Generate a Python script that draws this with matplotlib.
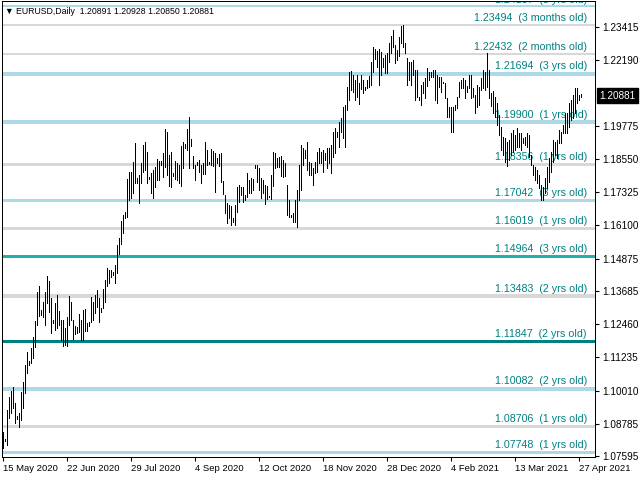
import matplotlib
matplotlib.use("Agg")
import matplotlib.pyplot as plt
import matplotlib.transforms as mtransforms

plt.rcParams["font.family"] = ["Liberation Sans", "DejaVu Sans"]

# header of the MT chart window
header_text = "\u25bc EURUSD,Daily  1.20891 1.20928 1.20850 1.20881"
last_price = 1.20881

# daily bars (high / low)
bar_high = [
    1.0848, 1.0822, 1.0929, 1.0977, 1.1000, 1.1014, 1.0955, 1.0907, 1.0918, 1.0996,
    1.1032, 1.1095, 1.1143, 1.1110, 1.1158, 1.1198, 1.1257, 1.1364, 1.1386, 1.1298,
    1.1327, 1.1364, 1.1423, 1.1405, 1.1342, 1.1261, 1.1324, 1.1353, 1.1294, 1.1261,
    1.1261, 1.1231, 1.1272, 1.1349, 1.1327, 1.1261, 1.1239, 1.1235, 1.1283, 1.1261,
    1.1298, 1.1302, 1.1250, 1.1254, 1.1346, 1.1327, 1.1353, 1.1371, 1.1342, 1.1305,
    1.1375, 1.1408, 1.1453, 1.1445, 1.1445, 1.1438, 1.1464, 1.1538, 1.1563, 1.1626,
    1.1648, 1.1659, 1.1781, 1.1807, 1.1807, 1.1844, 1.1914, 1.1785, 1.1796, 1.1840,
    1.1907, 1.1918, 1.1881, 1.1788, 1.1803, 1.1814, 1.1825, 1.1855, 1.1848, 1.1848,
    1.1877, 1.1965, 1.1954, 1.1870, 1.1881, 1.1803, 1.1848, 1.1840, 1.1833, 1.1903,
    1.1918, 1.1910, 1.1965, 1.2010, 1.1929, 1.1866, 1.1833, 1.1844, 1.1851, 1.1833,
    1.1840, 1.1918, 1.1888, 1.1844, 1.1892, 1.1884, 1.1877, 1.1859, 1.1873, 1.1877,
    1.1774, 1.1722, 1.1693, 1.1685, 1.1681, 1.1637, 1.1685, 1.1752, 1.1759, 1.1752,
    1.1752, 1.1722, 1.1803, 1.1777, 1.1785, 1.1781, 1.1833, 1.1833, 1.1822, 1.1785,
    1.1777, 1.1759, 1.1755, 1.1718, 1.1796, 1.1881, 1.1877, 1.1859, 1.1862, 1.1866,
    1.1851, 1.1840, 1.1759, 1.1704, 1.1648, 1.1656, 1.1704, 1.1741, 1.1833, 1.1907,
    1.1896, 1.1888, 1.1918, 1.1844, 1.1840, 1.1822, 1.1844, 1.1881, 1.1896, 1.1881,
    1.1888, 1.1877, 1.1896, 1.1896, 1.1907, 1.1954, 1.1969, 1.1954, 1.1991, 1.2006,
    1.2047, 1.2054, 1.2120, 1.2176, 1.2179, 1.2165, 1.2146, 1.2165, 1.2135, 1.2165,
    1.2146, 1.2120, 1.2146, 1.2161, 1.2213, 1.2268, 1.2261, 1.2253, 1.2261, 1.2250,
    1.2227, 1.2238, 1.2246, 1.2283, 1.2308, 1.2331, 1.2275, 1.2257, 1.2305, 1.2345,
    1.2349, 1.2283, 1.2227, 1.2213, 1.2213, 1.2220, 1.2183, 1.2183, 1.2084, 1.2128,
    1.2139, 1.2154, 1.2190, 1.2176, 1.2176, 1.2183, 1.2183, 1.2165, 1.2157, 1.2157,
    1.2139, 1.2135, 1.2080, 1.2047, 1.2047, 1.2047, 1.2054, 1.2084, 1.2139, 1.2146,
    1.2154, 1.2146, 1.2124, 1.2165, 1.2165, 1.2117, 1.2091, 1.2128, 1.2120, 1.2154,
    1.2183, 1.2176, 1.2246, 1.2183, 1.2100, 1.2105, 1.2085, 1.2061, 1.2017, 1.1973,
    1.1936, 1.1932, 1.1918, 1.1925, 1.1951, 1.1962, 1.1943, 1.1969, 1.1951, 1.1951,
    1.1932, 1.1936, 1.1951, 1.1943, 1.1870, 1.1833, 1.1825, 1.1814, 1.1796, 1.1759,
    1.1752, 1.1785, 1.1825, 1.1859, 1.1881, 1.1925, 1.1918, 1.1925, 1.1962, 1.1954,
    1.1980, 1.2025, 1.2025, 1.2061, 1.2072, 1.2091, 1.2117, 1.2117, 1.2091, 1.20928,
]
bar_low = [
    1.0789, 1.0815, 1.0800, 1.0900, 1.0918, 1.0937, 1.0881, 1.0896, 1.0867, 1.0892,
    1.0937, 1.0992, 1.1066, 1.1095, 1.1102, 1.1121, 1.1161, 1.1242, 1.1276, 1.1279,
    1.1272, 1.1242, 1.1324, 1.1290, 1.1213, 1.1250, 1.1224, 1.1231, 1.1242, 1.1187,
    1.1165, 1.1169, 1.1165, 1.1242, 1.1261, 1.1191, 1.1209, 1.1213, 1.1217, 1.1187,
    1.1187, 1.1220, 1.1220, 1.1239, 1.1254, 1.1261, 1.1287, 1.1309, 1.1254, 1.1290,
    1.1305, 1.1327, 1.1386, 1.1397, 1.1419, 1.1427, 1.1397, 1.1434, 1.1504, 1.1541,
    1.1582, 1.1637, 1.1641, 1.1704, 1.1711, 1.1729, 1.1766, 1.1766, 1.1693, 1.1766,
    1.1807, 1.1814, 1.1766, 1.1781, 1.1729, 1.1711, 1.1752, 1.1777, 1.1777, 1.1833,
    1.1789, 1.1825, 1.1796, 1.1755, 1.1752, 1.1792, 1.1781, 1.1777, 1.1766, 1.1755,
    1.1822, 1.1895, 1.1888, 1.1822, 1.1903, 1.1822, 1.1777, 1.1833, 1.1807, 1.1766,
    1.1800, 1.1800, 1.1833, 1.1836, 1.1833, 1.1829, 1.1733, 1.1840, 1.1829, 1.1770,
    1.1726, 1.1656, 1.1619, 1.1637, 1.1611, 1.1622, 1.1611, 1.1659, 1.1696, 1.1722,
    1.1696, 1.1704, 1.1715, 1.1729, 1.1729, 1.1741, 1.1822, 1.1770, 1.1741, 1.1711,
    1.1729, 1.1689, 1.1707, 1.1715, 1.1707, 1.1755, 1.1822, 1.1825, 1.1825, 1.1792,
    1.1789, 1.1792, 1.1648, 1.1641, 1.1641, 1.1622, 1.1622, 1.1604, 1.1704, 1.1741,
    1.1833, 1.1858, 1.1814, 1.1796, 1.1796, 1.1759, 1.1803, 1.1807, 1.1840, 1.1840,
    1.1807, 1.1851, 1.1822, 1.1840, 1.1803, 1.1862, 1.1877, 1.1936, 1.1899, 1.1954,
    1.1932, 1.1899, 1.2036, 1.2072, 1.2109, 1.2102, 1.2072, 1.2084, 1.2058, 1.2113,
    1.2098, 1.2109, 1.2117, 1.2120, 1.2128, 1.2176, 1.2224, 1.2194, 1.2128, 1.2165,
    1.2194, 1.2172, 1.2172, 1.2213, 1.2246, 1.2268, 1.2209, 1.2220, 1.2235, 1.2283,
    1.2268, 1.2246, 1.2128, 1.2146, 1.2128, 1.2165, 1.2072, 1.2084, 1.2072, 1.2054,
    1.2098, 1.2080, 1.2124, 1.2146, 1.2157, 1.2157, 1.2072, 1.2061, 1.2120, 1.2102,
    1.2135, 1.2080, 1.2010, 1.2010, 1.1954, 1.1954, 1.2036, 1.2043, 1.2084, 1.2117,
    1.2117, 1.2080, 1.2102, 1.2117, 1.2080, 1.2084, 1.2025, 1.2047, 1.2054, 1.2109,
    1.2117, 1.2109, 1.2120, 1.2080, 1.2050, 1.2025, 1.2010, 1.1980, 1.1943, 1.1888,
    1.1870, 1.1844, 1.1829, 1.1851, 1.1870, 1.1881, 1.1888, 1.1899, 1.1899, 1.1888,
    1.1914, 1.1907, 1.1899, 1.1862, 1.1833, 1.1796, 1.1777, 1.1766, 1.1748, 1.1704,
    1.1704, 1.1729, 1.1748, 1.1770, 1.1807, 1.1844, 1.1870, 1.1859, 1.1914, 1.1914,
    1.1951, 1.1951, 1.1951, 1.1973, 1.1999, 1.2006, 1.2025, 1.2061, 1.2072, 1.20850,
]

# date axis: bar index of each label
date_ticks = [0, 32, 64, 96, 128, 160, 192, 224, 256, 288]
date_labels = ["15 May 2020", "22 Jun 2020", "29 Jul 2020", "4 Sep 2020", "12 Oct 2020",
               "18 Nov 2020", "28 Dec 2020", "4 Feb 2021", "13 Mar 2021", "27 Apr 2021"]

price_ticks = [1.23415, 1.22190, 1.19775, 1.18550, 1.17325, 1.16100, 1.14875,
               1.13685, 1.12460, 1.11235, 1.10010, 1.08785, 1.07595]

# support / resistance levels
level_prices = [1.24187, 1.23494, 1.22432, 1.21694, 1.19900, 1.18356, 1.17042,
                1.16019, 1.14964, 1.13483, 1.11847, 1.10082, 1.08706, 1.07748]
level_ages = ["3 yrs old", "3 months old", "2 months old", "3 yrs old", "1 yrs old",
              "1 yrs old", "3 yrs old", "1 yrs old", "3 yrs old", "2 yrs old",
              "2 yrs old", "2 yrs old", "1 yrs old", "1 yrs old"]

# line look for each level
level_colors = ["#add8e6", "#d8d8d8", "#d8d8d8", "#add8e6", "#add8e6", "#d8d8d8", "#add8e6",
                "#d8d8d8", "#20b2aa", "#d8d8d8", "#008080", "#add8e6", "#d8d8d8", "#add8e6"]
level_px = [2, 2, 2, 4, 4, 3, 3, 3, 3, 4, 3, 4, 3, 3]

PX = 0.72  # one pixel in points at dpi 100

fig = plt.figure(figsize=(6.4, 4.8), dpi=100)
ax = fig.add_axes([2 / 640, 23 / 480, 593 / 640, 455.5 / 480])

for price, color, px in zip(level_prices, level_colors, level_px):
    ax.axhline(price, color=color, linewidth=px * PX, zorder=1)

for price, age, px in zip(level_prices, level_ages, level_px):
    ax.annotate(f"{price:.5f}  ({age})", xy=(0.9865, price),
                xycoords=("axes fraction", "data"), xytext=(0, px / 2 + 0.5),
                textcoords="offset pixels", ha="right", va="bottom",
                fontsize=7.7, color="#008080", zorder=2, annotation_clip=False,
                clip_on=True)

ax.vlines(range(len(bar_high)), bar_low, bar_high, colors="black",
          linewidth=PX, antialiased=False, zorder=3)

ax.set_xlim(-0.5, 296)
ax.set_ylim(1.07558, 1.24357)

ax.yaxis.tick_right()
ax.set_yticks(price_ticks)
ax.set_yticklabels([f"{p:.5f}" for p in price_ticks])
ax.tick_params(axis="y", direction="out", length=3, width=0.8, labelsize=7.2, pad=2)

ax.set_xticks(date_ticks)
ax.set_xticklabels(date_labels)
ax.tick_params(axis="x", direction="out", length=3, width=0.8, labelsize=6.8, pad=2)
plt.setp(ax.get_xticklabels(), ha="left")

for spine in ax.spines.values():
    spine.set_color("black")
    spine.set_linewidth(PX)

# current price tag on the price scale
tag_trans = mtransforms.blended_transform_factory(ax.transAxes, ax.transData)
ax.annotate(f"{last_price:.5f}", xy=(1.0, last_price), xycoords=tag_trans,
            xytext=(4, 0), textcoords="offset pixels", ha="left", va="center",
            fontsize=7.2, color="white", annotation_clip=False,
            bbox=dict(boxstyle="square,pad=0.25", fc="black", ec="black"))

fig.text(5 / 640, 1 - 11 / 480, header_text, fontsize=6.3, ha="left", va="center")

fig.savefig("out.png", dpi=100)
